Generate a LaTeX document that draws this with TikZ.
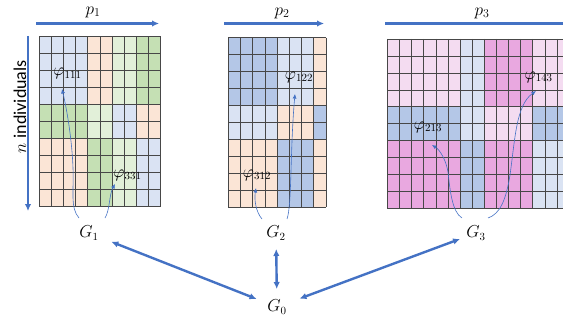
\documentclass[tikz,border=0pt]{standalone}
\usepackage{fontspec}
\newfontfamily\carlito{Carlito}
\usetikzlibrary{arrows.meta}
\definecolor{lb}{HTML}{DAE3F3}
\definecolor{mb}{HTML}{B4C7E7}
\definecolor{pe}{HTML}{FBE5D6}
\definecolor{lg}{HTML}{E2F0D9}
\definecolor{gr}{HTML}{C5E0B4}
\definecolor{lp}{HTML}{F4DCF1}
\definecolor{pk}{HTML}{E9A8E0}
\definecolor{ablue}{HTML}{4472C4}
\begin{document}
\begin{tikzpicture}[x=1pt,y=-1pt,
 gl/.style={draw=black!72, line width=0.55pt},
 big/.style={draw=ablue, line width=2.4pt, {Latex[length=7pt,width=6.5pt]}-{Latex[length=7pt,width=6.5pt]}},
 axis/.style={draw=ablue, line width=2.4pt, -{Latex[length=7pt,width=6.5pt]}},
 axisline/.style={draw=ablue, line width=2.4pt},
 thin/.style={draw=ablue, line width=0.6pt, -{Latex[length=4.5pt,width=4pt]}},
 lab/.style={font=\fontsize{16}{16}\selectfont, inner sep=0pt},
 plab/.style={font=\fontsize{18}{18}\selectfont, inner sep=0pt},
 gnode/.style={font=\fontsize{16}{16}\selectfont, inner sep=0pt}]
\useasboundingbox (0,0) rectangle (563,321);
\clip (0,0) rectangle (563,321);

% ---- grid 1 ----
\begin{scope}[shift={(39pt,-36.7pt)}, x=12.17pt, y=-17pt]
\foreach \a/\b/\c/\d/\col in {0/0/4/4/lb, 4/0/6/4/pe, 6/0/8/4/lg, 8/0/10/4/gr,
  0/4/4/6/gr, 4/4/6/6/lg, 6/4/8/6/lb, 8/4/10/6/pe,
  0/6/4/10/pe, 4/6/6/10/gr, 6/6/8/10/lg, 8/6/10/10/lb}
  \fill[\col] (\a,\b) rectangle (\c,\d);
\foreach \i in {0,...,10} \draw[gl] (\i,0) -- (\i,10);
\foreach \j in {0,...,10} \draw[gl] (0,\j) -- (10,\j);
\end{scope}

% ---- grid 2 ----
\begin{scope}[shift={(228.3pt,-37.7pt)}, x=12.21pt, y=-16.96pt]
\foreach \a/\b/\c/\d/\col in {0/0/4/4/mb, 4/0/7/4/lb, 7/0/8/4/pe,
  0/4/4/6/lb, 4/4/7/6/pe, 7/4/8/6/mb,
  0/6/4/10/pe, 4/6/7/10/mb, 7/6/8/10/pe}
  \fill[\col] (\a,\b) rectangle (\c,\d);
\foreach \i in {0,...,8} \draw[gl] (\i,0) -- (\i,10);
\foreach \j in {0,...,10} \draw[gl] (0,\j) -- (8,\j);
\end{scope}

% ---- grid 3 ----
\begin{scope}[shift={(387.3pt,-39pt)}, x=12.12pt, y=-16.93pt]
\foreach \a/\b/\c/\d/\col in {0/0/6/4/lp, 6/0/8/4/lb, 8/0/12/4/pk, 12/0/15/4/lp,
  0/4/6/6/mb, 6/4/8/6/lb, 8/4/12/6/lp, 12/4/15/6/mb,
  0/6/6/10/pk, 6/6/8/10/mb, 8/6/12/10/pk, 12/6/15/10/lb}
  \fill[\col] (\a,\b) rectangle (\c,\d);
\foreach \i in {0,...,15} \draw[gl] (\i,0) -- (\i,10);
\foreach \j in {0,...,10} \draw[gl] (0,\j) -- (15,\j);
\end{scope}

% ---- axes ----
\node[plab] (p1) at (93,12) {$p_1$};
\node[plab] (p2) at (282,13) {$p_2$};
\node[plab] (p3) at (482,13) {$p_3$};
\coordinate (a1s) at (36,23.5); \coordinate (a1e) at (159,23.5);
\coordinate (a2s) at (224,23.5); \coordinate (a2e) at (324,23.5);
\coordinate (a3s) at (385,23.5); \coordinate (a3e) at (570,23.5);
\coordinate (ns) at (28,36); \coordinate (ne) at (28,211);
\draw[axis] (a1s) -- (a1e);
\draw[axis] (a2s) -- (a2e);
\draw[axisline] (a3s) -- (a3e);
\draw[axis] (ns) -- (ne);
\node[rotate=90, inner sep=0pt, font=\fontsize{18}{18}\selectfont] (nlab) at (20,107) {$n$ {\carlito individuals}};

% ---- phi labels ----
\node[lab] (f111) at (67.5,73.5) {$\varphi_{111}$};
\node[lab] (f331) at (127.5,175) {$\varphi_{331}$};
\node[lab] (f122) at (299,77) {$\varphi_{122}$};
\node[lab] (f312) at (257,175) {$\varphi_{312}$};
\node[lab] (f213) at (428,127) {$\varphi_{213}$};
\node[lab, anchor=west] (f143) at (524.5,77) {$\varphi_{143}$};

% ---- G nodes ----
\node[gnode] (g1) at (89,233) {$G_1$};
\node[gnode] (g2) at (276,233) {$G_2$};
\node[gnode] (g3) at (476,233) {$G_3$};
\node[gnode] (g0) at (277,307) {$G_0$};

% ---- thin curved arrows ----
\coordinate (c1s) at (79,218);   \coordinate (c1e) at (62,89);
\coordinate (c2s) at (105,218);  \coordinate (c2e) at (115,184);
\coordinate (c3s) at (262,219);  \coordinate (c3e) at (256,188);
\coordinate (c4s) at (287,219);  \coordinate (c4e) at (295,94);
\coordinate (c5s) at (462,218);  \coordinate (c5e) at (432,145);
\coordinate (c6s) at (488,218);  \coordinate (c6e) at (536,91);
\draw[thin] (c1s) .. controls (70,208) and (74,190) .. (73,168) .. controls (72,140) and (67,110) .. (c1e);
\draw[thin] (c2s) .. controls (110,210) and (109,195) .. (c2e);
\draw[thin] (c3s) .. controls (256,212) and (254,200) .. (c3e);
\draw[thin] (c4s) .. controls (292,205) and (290,150) .. (c4e);
\draw[thin] (c5s) .. controls (452,212) and (450,190) .. (448,172) .. controls (446,160) and (440,150) .. (c5e);
\draw[thin] (c6s) .. controls (500,214) and (506,200) .. (510,175) .. controls (515,140) and (516,105) .. (c6e);

% ---- thick arrows ----
\draw[big, shorten <=24pt, shorten >=22pt] (g1.center) -- (g0.center);
\draw[big, shorten <=16pt, shorten >=18pt] (g2.center) -- (g0.center);
\draw[big, shorten <=17pt, shorten >=24pt] (g3.center) -- (g0.center);
\end{tikzpicture}
\end{document}
